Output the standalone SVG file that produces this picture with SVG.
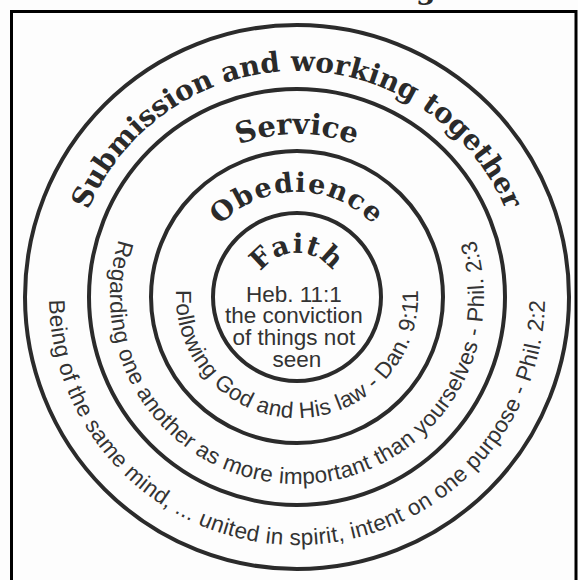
<svg xmlns="http://www.w3.org/2000/svg" xmlns:xlink="http://www.w3.org/1999/xlink" width="578" height="580" viewBox="0 0 578 580">
  <style>
    .ring { fill: none; stroke: #2b2b2b; stroke-width: 4; }
    .title { font-family: "DejaVu Serif", "Liberation Serif", serif; font-weight: bold; fill: #2a2a2a; }
    .verse { font-family: "Liberation Sans", Arial, sans-serif; font-size: 22.5px; fill: #333333; }
  </style>
  <defs>
    <!-- upper arcs: clockwise circles starting at the bottom, midpoint at the top -->
    <path id="arcSubmission" d="M297,523 A226,226 0 0 1 297,71 A226,226 0 0 1 297,523"/>
    <path id="arcService" d="M297,460 A163,163 0 0 1 297,134 A163,163 0 0 1 297,460"/>
    <path id="arcObedience" d="M297,402 A105,105 0 0 1 297,192 A105,105 0 0 1 297,402"/>
    <path id="arcFaith" d="M297,341 A44,44 0 0 1 297,253 A44,44 0 0 1 297,341"/>
    <!-- lower arcs: counter-clockwise circles starting at the top, midpoint at the bottom -->
    <path id="arcFollowing" d="M297,176 A121,121 0 0 0 297,418 A121,121 0 0 0 297,176"/>
    <path id="arcRegarding" d="M297,110 A187,187 0 0 0 297,484 A187,187 0 0 0 297,110"/>
    <path id="arcBeing" d="M297,49 A248,248 0 0 0 297,545 A248,248 0 0 0 297,49"/>
  </defs>

  <rect x="0" y="0" width="578" height="580" fill="#fdfdfd"/>

  <!-- page frame -->
  <path d="M11.5,580 V11.5 H576 V580" fill="none" stroke="#000" stroke-width="3"/>
  <text class="title" x="416" y="-1" font-size="28">g</text>

  <g id="ring-submission">
    <circle class="ring" cx="297" cy="297" r="272"/>
    <text class="title" font-size="28"><textPath xlink:href="#arcSubmission" href="#arcSubmission" startOffset="50%" text-anchor="middle">Submission and working together</textPath></text>
    <text class="verse" letter-spacing="0.35"><textPath xlink:href="#arcBeing" href="#arcBeing" startOffset="50%" text-anchor="middle">Being of the same mind, ... united in spirit, intent on one purpose - Phil. 2:2</textPath></text>
  </g>

  <g id="ring-service">
    <circle class="ring" cx="297" cy="297" r="208"/>
    <text class="title" font-size="29"><textPath xlink:href="#arcService" href="#arcService" startOffset="50%" text-anchor="middle">Service</textPath></text>
    <text class="verse" letter-spacing="0.3"><textPath xlink:href="#arcRegarding" href="#arcRegarding" startOffset="50%" text-anchor="middle">Regarding one another as more important than yourselves - Phil. 2:3</textPath></text>
  </g>

  <g id="ring-obedience">
    <circle class="ring" cx="297" cy="297" r="146"/>
    <text class="title" font-size="27" letter-spacing="1.5"><textPath xlink:href="#arcObedience" href="#arcObedience" startOffset="50%" text-anchor="middle">Obedience</textPath></text>
    <text class="verse" letter-spacing="0.3"><textPath xlink:href="#arcFollowing" href="#arcFollowing" startOffset="50%" text-anchor="middle">Following God and His law - Dan. 9:11</textPath></text>
  </g>

  <g id="core-faith">
    <circle class="ring" cx="297" cy="297" r="84"/>
    <text class="title" font-size="27" letter-spacing="1.5"><textPath xlink:href="#arcFaith" href="#arcFaith" startOffset="50%" text-anchor="middle">Faith</textPath></text>
    <text class="verse" text-anchor="middle">
      <tspan x="297" y="302">Heb. 11:1</tspan>
      <tspan x="297" y="323">the conviction</tspan>
      <tspan x="297" y="345">of things not</tspan>
      <tspan x="297" y="367">seen</tspan>
    </text>
  </g>
</svg>
